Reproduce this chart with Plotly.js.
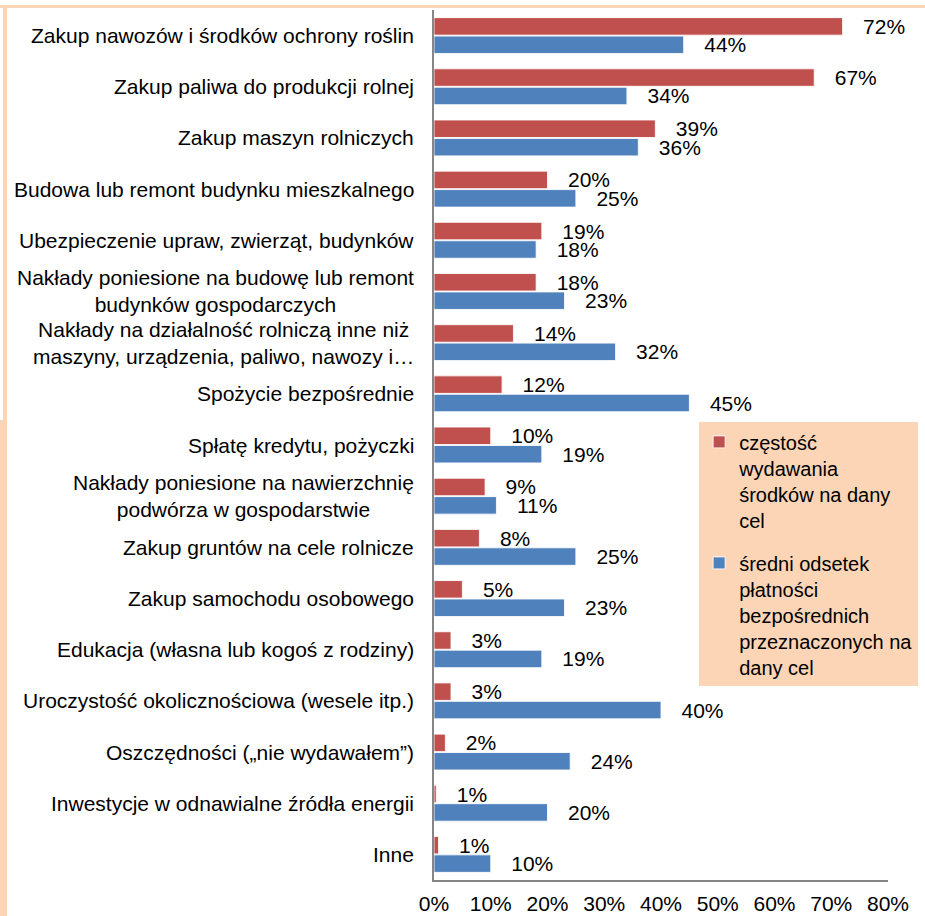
<!DOCTYPE html>
<html>
<head>
<meta charset="utf-8">
<script src="https://cdn.plot.ly/plotly-3.0.1.min.js"></script>
<style>
  html, body { margin:0; padding:0; background:#fff; }
  #wrap { position:relative; width:925px; height:916px; overflow:hidden; }
  #chart { position:absolute; left:0; top:0; width:925px; height:916px; }
  .frame { position:absolute; background:#FBD5B5; pointer-events:none; z-index:5; }
</style>
</head>
<body>
<div id="wrap">
  <div id="chart"></div>
  <div class="frame" style="left:0;top:5px;width:925px;height:3px;"></div>
  <div class="frame" style="left:3px;top:5px;width:4px;height:415px;"></div>
  <div class="frame" style="left:0;top:420px;width:7px;height:496px;"></div>
</div>
<script>
const categories = [
  "Zakup nawozów i środków ochrony roślin",
  "Zakup paliwa do produkcji rolnej",
  "Zakup maszyn rolniczych",
  "Budowa lub remont budynku mieszkalnego",
  "Ubezpieczenie upraw, zwierząt, budynków",
  "Nakłady poniesione na budowę lub remont<br>budynków gospodarczych",
  "Nakłady na działalność rolniczą inne niż<br>maszyny, urządzenia, paliwo, nawozy i…",
  "Spożycie bezpośrednie",
  "Spłatę kredytu, pożyczki",
  "Nakłady poniesione na nawierzchnię<br>podwórza w gospodarstwie",
  "Zakup gruntów na cele rolnicze",
  "Zakup samochodu osobowego",
  "Edukacja (własna lub kogoś z rodziny)",
  "Uroczystość okolicznościowa (wesele itp.)",
  "Oszczędności („nie wydawałem”)",
  "Inwestycje w odnawialne źródła energii",
  "Inne"
];
const seriesNames = [
  "częstość<br>wydawania<br>środków na dany<br>cel",
  "średni odsetek<br>płatności<br>bezpośrednich<br>przeznaczonych na<br>dany cel"
];
const redValues  = [72, 67, 39, 20, 19, 18, 14, 12, 10, 9, 8, 5, 3, 3, 2, 0.4, 0.8];
const redLabels  = [72, 67, 39, 20, 19, 18, 14, 12, 10, 9, 8, 5, 3, 3, 2, 1, 1];
const blueValues = [44, 34, 36, 25, 18, 23, 32, 45, 19, 11, 25, 23, 19, 40, 24, 20, 10];
const blueLabels = [44, 34, 36, 25, 18, 23, 32, 45, 19, 11, 25, 23, 19, 40, 24, 20, 10];
const xTickVals = [0, 10, 20, 30, 40, 50, 60, 70, 80];
const xTickText = ["0%", "10%", "20%", "30%", "40%", "50%", "60%", "70%", "80%"];

const FONT = "Liberation Sans, Arial, sans-serif";
const yIdx = categories.map((c, i) => i);

function barTrace(vals, labels, name, color, group) {
  return {
    type: 'bar', orientation: 'h',
    x: vals, y: yIdx, name: name,
    legendgroup: group,
    marker: { color: color, line: { color: 'rgba(255,255,255,0.85)', width: 1 } },
    text: labels.map(v => '   ' + v + '%'),
    textposition: 'outside',
    constraintext: 'none',
    cliponaxis: false,
    textfont: { family: FONT, size: 21, color: '#000' },
    hoverinfo: 'skip'
  };
}

const data = [
  barTrace(redValues, redLabels, seriesNames[0], '#C0504D', 'a'),
  barTrace(blueValues, blueLabels, seriesNames[1], '#4F81BD', 'b')
];

const annotations = categories.map((c, i) => ({
  xref: 'paper', yref: 'y', x: 0, y: i,
  xanchor: 'right', yanchor: 'middle', xshift: -18,
  text: c, showarrow: false, align: 'center',
  font: { family: FONT, size: 21, color: '#000' }
}));

const layout = {
  width: 925, height: 916,
  margin: { l: 434, r: 37, t: 10, b: 36, autoexpand: false },
  paper_bgcolor: '#fff', plot_bgcolor: '#fff',
  barmode: 'group', bargap: 0.28, bargroupgap: 0.05,
  font: { family: FONT, size: 21, color: '#000' },
  showlegend: true,
  legend: {
    x: 0.584, y: 0.526, xanchor: 'left', yanchor: 'top',
    xref: 'paper', yref: 'paper',
    bgcolor: '#FBD5B5', borderwidth: 0,
    valign: 'top', traceorder: 'grouped', tracegroupgap: 14,
    font: { family: FONT, size: 20, color: '#000' }
  },
  xaxis: {
    range: [0, 80], tickmode: 'array', tickvals: xTickVals, ticktext: xTickText,
    showgrid: false, zeroline: false,
    showline: true, linecolor: '#868686', linewidth: 1.5,
    ticks: '', ticklabelstandoff: 4,
    tickfont: { family: FONT, size: 21, color: '#000' }
  },
  yaxis: {
    range: [16.5, -0.5], showticklabels: false,
    showgrid: false, zeroline: false,
    showline: true, linecolor: '#868686', linewidth: 2,
    ticks: ''
  },
  annotations: annotations
};

Plotly.newPlot('chart', data, layout, { displayModeBar: false, staticPlot: true });
</script>
</body>
</html>
